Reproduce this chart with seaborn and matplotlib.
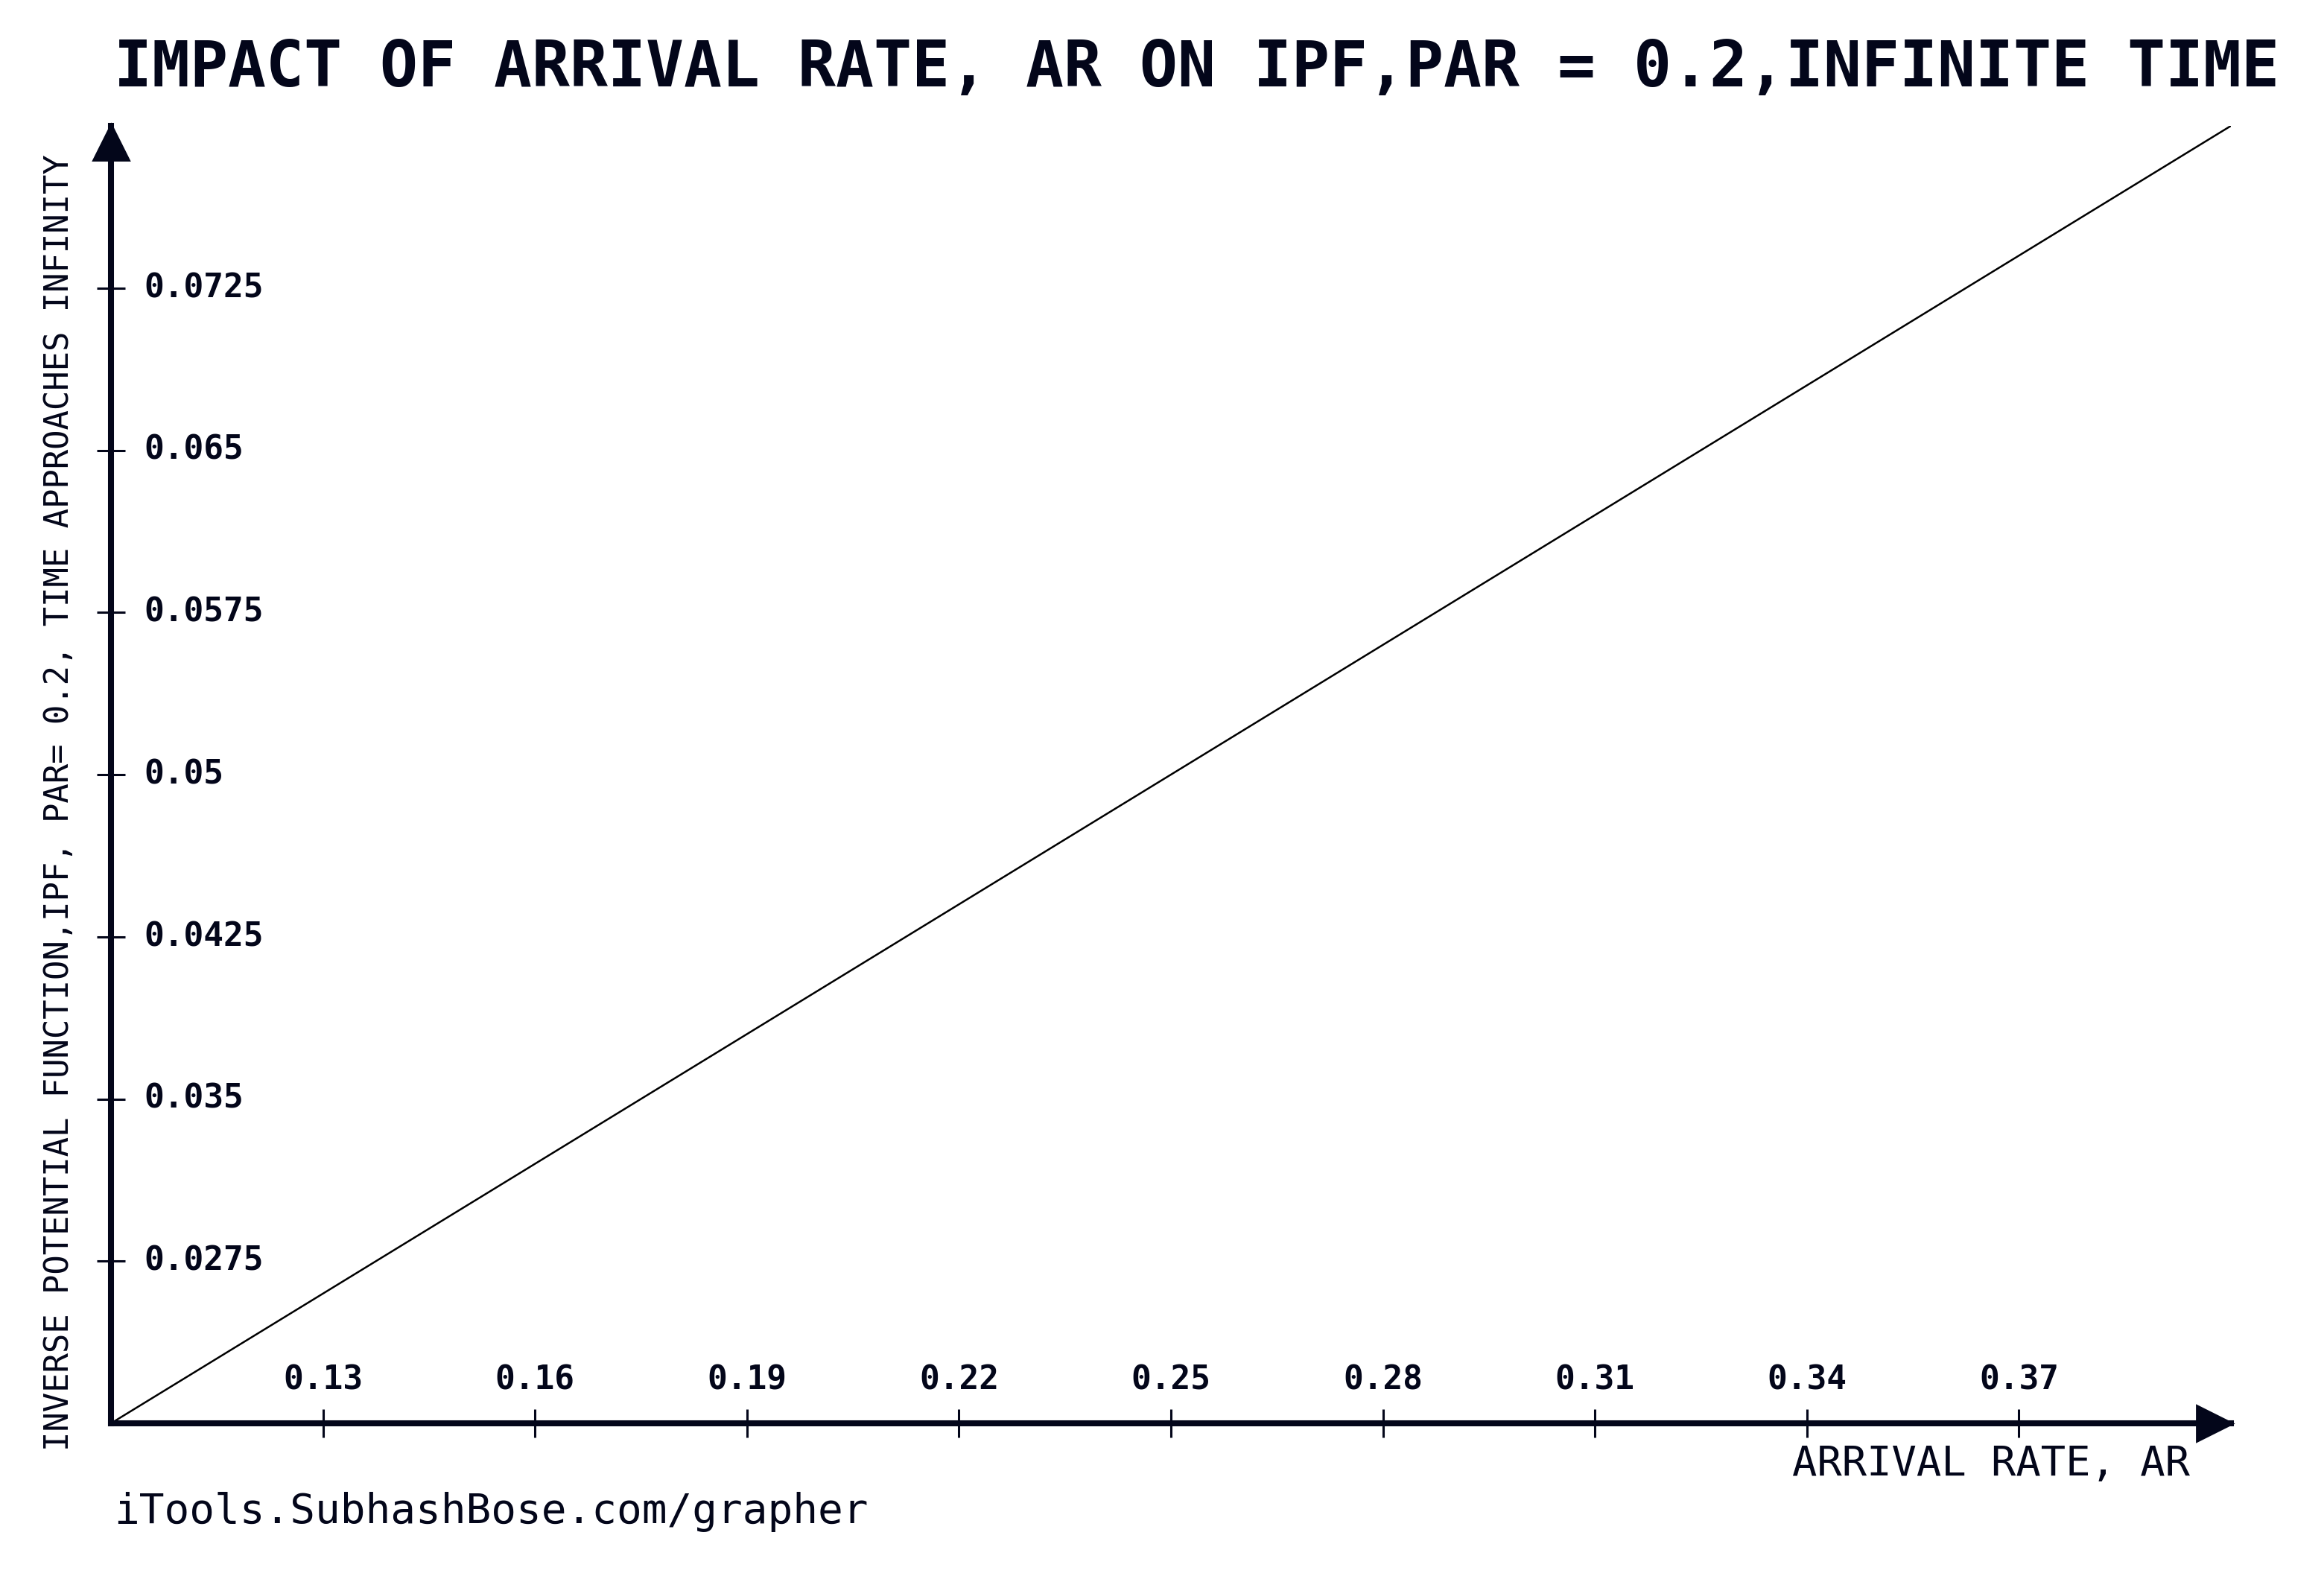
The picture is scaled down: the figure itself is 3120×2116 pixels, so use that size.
import matplotlib
matplotlib.use('Agg')
import matplotlib.pyplot as plt
import matplotlib.transforms as mtransforms
import seaborn as sns

sns.set_theme(style='white')
plt.rcParams['font.family'] = ['DejaVu Sans Mono', 'DejaVu Sans']

# data
arrival_rate = [0.10, 0.13, 0.16, 0.19, 0.22, 0.25, 0.28, 0.31, 0.34, 0.37, 0.40]
ipf = [0.020, 0.026, 0.032, 0.038, 0.044, 0.050, 0.056, 0.062, 0.068, 0.074, 0.080]
x_ticks = [0.13, 0.16, 0.19, 0.22, 0.25, 0.28, 0.31, 0.34, 0.37]
x_tick_labels = ['0.13', '0.16', '0.19', '0.22', '0.25', '0.28', '0.31', '0.34', '0.37']
y_ticks = [0.0275, 0.035, 0.0425, 0.05, 0.0575, 0.065, 0.0725]
y_tick_labels = ['0.0275', '0.035', '0.0425', '0.05', '0.0575', '0.065', '0.0725']

ink = '#03061a'
W, H = 3120, 2116

fig = plt.figure(figsize=(15.6, 10.58), dpi=200)
fig.patch.set_facecolor('white')
ax = fig.add_axes([149 / W, 1 - 1911 / H, (2995 - 149) / W, (1911 - 169) / H])
ax.set_facecolor('white')

sns.lineplot(x=arrival_rate, y=ipf, ax=ax, color='black', linewidth=0.9)

ax.set_xlim(0.10, 0.40)
ax.set_ylim(0.02, 0.08)

for side in ['top', 'right']:
    ax.spines[side].set_visible(False)
for side in ['left', 'bottom']:
    ax.spines[side].set_color(ink)
    ax.spines[side].set_linewidth(2.9)

# arrow heads at the ends of the axes
up = mtransforms.offset_copy(ax.transAxes, fig=fig, x=0, y=-8, units='points')
right = mtransforms.offset_copy(ax.transAxes, fig=fig, x=-8, y=0, units='points')
ax.plot([0], [1], marker='^', markersize=17, color=ink, transform=up, clip_on=False)
ax.plot([1], [0], marker='>', markersize=17, color=ink, transform=right, clip_on=False)

ax.set_xticks(x_ticks)
ax.set_xticklabels(x_tick_labels)
ax.set_yticks(y_ticks)
ax.set_yticklabels(y_tick_labels)
ax.tick_params(axis='both', direction='inout', length=14, width=1.1, color=ink,
               labelcolor=ink, labelsize=16)
ax.tick_params(axis='y', left=True, pad=-23)
ax.tick_params(axis='x', bottom=True, pad=-20)
for lab in ax.get_yticklabels():
    lab.set_horizontalalignment('left')
    lab.set_verticalalignment('center')
    lab.set_fontweight('bold')
for lab in ax.get_xticklabels():
    lab.set_verticalalignment('bottom')
    lab.set_fontweight('bold')
ax.grid(False)

fig.text(153 / W, 1 - 92 / H, 'IMPACT OF ARRIVAL RATE, AR ON IPF,PAR = 0.2,INFINITE TIME',
         ha='left', va='center', fontsize=30.5, fontweight='bold', color=ink)
fig.text(80 / W, 1 - 1078 / H,
         'INVERSE POTENTIAL FUNCTION,IPF, PAR= 0.2, TIME APPROACHES INFINITY',
         rotation=90, ha='center', va='center', fontsize=15.8, color=ink)
fig.text(2940 / W, 1 - 1966 / H, 'ARRIVAL RATE, AR',
         ha='right', va='center', fontsize=20, color=ink)
fig.text(153 / W, 1 - 2030 / H, 'iTools.SubhashBose.com/grapher',
         ha='left', va='center', fontsize=20.2, color=ink)

fig.savefig('out.png', dpi=200, facecolor='white')
